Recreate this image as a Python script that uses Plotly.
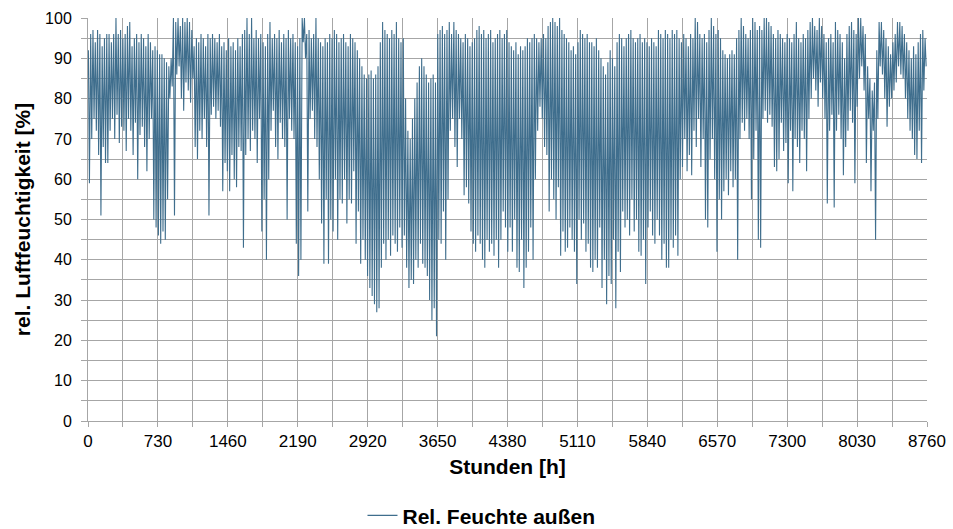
import plotly.graph_objects as go

# Tägliche Höchst- und Tiefstwerte der relativen Außenluftfeuchte [%], Tag 0 .. 364
tages_max = [
    92, 96, 97, 94, 97, 96, 93, 95, 96, 96, 94, 96, 100, 96, 97, 95, 96, 98, 99, 93,
    95, 96, 94, 96, 95, 93, 96, 94, 92, 93, 92, 91, 91, 90, 89, 88, 90, 100, 99, 100,
    98, 100, 99, 100, 99, 97, 93, 95, 94, 96, 95, 93, 96, 95, 96, 95, 94, 96, 93, 94,
    92, 95, 93, 94, 92, 95, 93, 96, 97, 100, 96, 100, 95, 97, 95, 96, 94, 93, 96, 99,
    95, 96, 95, 97, 94, 96, 95, 97, 95, 96, 94, 93, 95, 100, 100, 96, 97, 95, 96, 100,
    95, 94, 93, 95, 94, 96, 95, 97, 96, 94, 95, 96, 94, 93, 96, 95, 94, 92, 90, 88,
    86, 85, 86, 87, 85, 86, 88, 94, 99, 97, 96, 95, 97, 96, 99, 95, 94, 95, 80, 72,
    70, 75, 80, 84, 88, 90, 88, 86, 84, 85, 86, 84, 96, 97, 98, 96, 97, 99, 96, 99,
    97, 96, 95, 94, 96, 95, 93, 94, 95, 97, 98, 96, 97, 95, 96, 97, 94, 95, 96, 97,
    95, 96, 97, 94, 93, 92, 94, 91, 93, 92, 93, 95, 94, 95, 96, 95, 94, 95, 96, 95,
    98, 99, 100, 99, 98, 100, 97, 96, 95, 94, 92, 93, 91, 94, 97, 96, 95, 96, 94, 94,
    93, 95, 92, 90, 88, 86, 89, 92, 90, 88, 94, 96, 95, 93, 95, 96, 97, 95, 94, 95,
    96, 94, 95, 94, 93, 95, 94, 93, 97, 96, 95, 97, 96, 95, 97, 96, 97, 95, 94, 96,
    95, 93, 96, 95, 100, 99, 96, 95, 96, 94, 97, 100, 98, 96, 97, 95, 92, 91, 90, 91,
    92, 91, 95, 97, 100, 98, 96, 95, 97, 100, 99, 97, 98, 97, 100, 100, 99, 98, 96, 95,
    97, 96, 95, 94, 96, 95, 94, 96, 99, 95, 94, 96, 95, 97, 99, 100, 98, 97, 100, 98,
    96, 94, 95, 96, 94, 99, 97, 96, 94, 90, 96, 98, 99, 97, 96, 100, 100, 98, 96, 88,
    85, 82, 84, 92, 99, 99, 97, 95, 93, 91, 94, 96, 99, 99, 98, 96, 94, 92, 90, 93,
    91, 94, 96, 97, 95,
]
tages_min = [
    59, 70, 75, 72, 66, 51, 68, 64, 64, 72, 75, 70, 76, 69, 73, 72, 67, 75, 72, 66,
    74, 60, 71, 73, 68, 62, 70, 75, 50, 48, 46, 44, 47, 45, 55, 80, 83, 51, 86, 88,
    80, 77, 84, 82, 79, 85, 68, 65, 72, 70, 75, 68, 51, 76, 78, 75, 77, 73, 57, 64,
    62, 57, 66, 60, 58, 68, 67, 43, 66, 70, 67, 72, 70, 64, 75, 47, 55, 40, 60, 72,
    77, 68, 65, 74, 70, 68, 50, 75, 72, 70, 44, 36, 40, 94, 90, 52, 75, 77, 70, 68,
    60, 49, 39, 55, 39, 50, 47, 60, 45, 55, 54, 60, 49, 55, 54, 62, 44, 52, 39, 45,
    40, 36, 33, 31, 29, 27, 28, 38, 44, 40, 45, 41, 46, 44, 42, 48, 43, 46, 38, 33,
    35, 34, 40, 38, 44, 39, 38, 36, 30, 25, 28, 21, 45, 44, 52, 40, 55, 72, 75, 68,
    63, 75, 70, 56, 58, 54, 47, 44, 42, 46, 44, 40, 38, 45, 42, 44, 41, 45, 38, 45,
    52, 48, 42, 48, 42, 50, 38, 37, 45, 33, 38, 42, 48, 40, 60, 72, 78, 75, 68, 66,
    52, 60, 55, 50, 58, 41, 47, 42, 43, 48, 45, 42, 34, 50, 45, 49, 42, 44, 38, 37,
    40, 38, 48, 33, 40, 29, 36, 34, 45, 28, 42, 37, 52, 48, 50, 46, 55, 47, 50, 42,
    41, 45, 34, 48, 52, 46, 44, 50, 46, 40, 44, 38, 38, 45, 43, 46, 41, 60, 63, 70,
    62, 66, 61, 72, 68, 75, 63, 70, 50, 48, 65, 70, 60, 42, 55, 50, 57, 60, 56, 62,
    58, 60, 40, 70, 74, 72, 75, 70, 55, 65, 72, 45, 43, 75, 77, 74, 76, 73, 63, 62,
    65, 74, 67, 69, 59, 72, 57, 70, 68, 64, 72, 70, 62, 75, 80, 85, 82, 78, 84, 80,
    75, 54, 72, 76, 53, 72, 76, 70, 61, 68, 72, 77, 74, 59, 78, 85, 88, 82, 64, 75,
    57, 72, 45, 75, 88, 86, 80, 73, 78, 80, 82, 84, 88, 86, 85, 80, 75, 72, 70, 66,
    65, 72, 64, 82, 88,
]

# Tageszeiten der Extremwerte: nachts feucht, nachmittags trocken
STUNDE_MAX = 4
STUNDE_MIN = 15

stunden = []
feuchte = []
for tag, (hoch, tief) in enumerate(zip(tages_max, tages_min)):
    stunden += [24 * tag + STUNDE_MAX, 24 * tag + STUNDE_MIN]
    feuchte += [hoch, tief]

x_ticks = list(range(0, 8761, 730))
y_ticks = list(range(0, 101, 10))

GRID = "#a6a6a6"
FONT = "Liberation Sans, Arial, sans-serif"

fig = go.Figure(
    go.Scatter(
        x=stunden,
        y=feuchte,
        mode="lines",
        name="Rel. Feuchte außen",
        line=dict(color="#3f6e8d", width=1.1),
    )
)

fig.update_layout(
    width=953,
    height=529,
    margin=dict(l=88, r=26, t=18, b=108, autoexpand=False),
    paper_bgcolor="white",
    plot_bgcolor="white",
    font=dict(family=FONT, size=16, color="black"),
    showlegend=True,
    legend=dict(
        orientation="h",
        x=0.469,
        xanchor="center",
        y=-0.235,
        yanchor="middle",
        font=dict(size=21, family=FONT, weight="bold"),
        itemwidth=30,
    ),
)

fig.update_xaxes(
    range=[0, 8760],
    tickvals=x_ticks,
    ticktext=[str(v) for v in x_ticks],
    showgrid=True,
    gridcolor=GRID,
    gridwidth=1,
    showline=True,
    linecolor=GRID,
    ticks="outside",
    ticklen=5,
    tickcolor=GRID,
    minor=dict(dtick=365, tick0=0, showgrid=True, gridcolor=GRID, ticks="outside", ticklen=5, tickcolor=GRID),
    zeroline=False,
    automargin=False,
    title=dict(text="<b>Stunden [h]</b>", font=dict(size=21), standoff=8),
    tickfont=dict(size=17),
)

fig.update_yaxes(
    range=[0, 100],
    tickvals=y_ticks,
    ticktext=[str(v) for v in y_ticks],
    showgrid=True,
    gridcolor=GRID,
    gridwidth=1,
    showline=True,
    linecolor=GRID,
    ticks="outside",
    ticklen=6,
    tickcolor=GRID,
    ticklabelstandoff=6,
    minor=dict(dtick=5, tick0=0, showgrid=True, gridcolor=GRID, ticks="outside", ticklen=6, tickcolor=GRID),
    zeroline=False,
    automargin=False,
    title=dict(text="<b>rel. Luftfeuchtigkeit [%]</b>", font=dict(size=21), standoff=8),
    tickfont=dict(size=16),
)

fig.write_html("out.html")
